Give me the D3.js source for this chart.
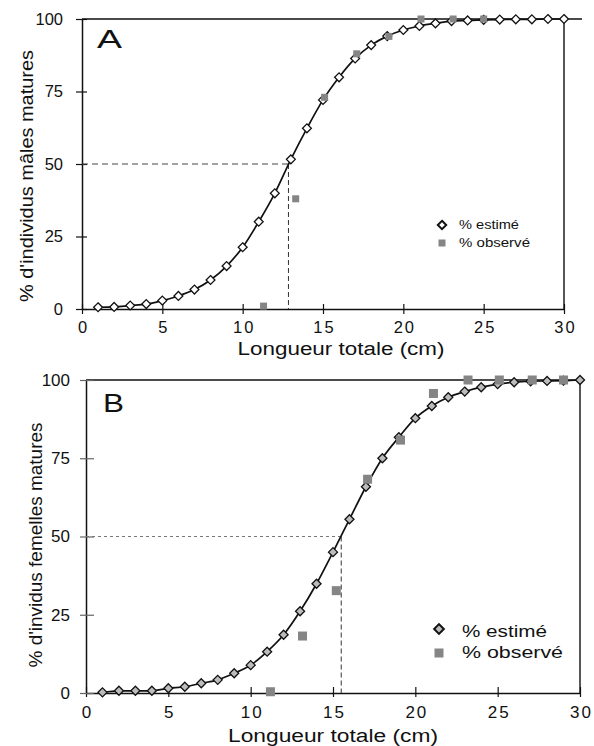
<!DOCTYPE html>
<html>
<head>
<meta charset="utf-8">
<script src="https://cdn.jsdelivr.net/npm/d3@7"></script>
<style>
    body { margin: 0; background: #fff; }
    text { font-family: "Liberation Sans", Arial, sans-serif; fill: #111; }
</style>
</head>
<body>
<svg id="figure" width="594" height="746"></svg>
<script>
// Données
const longueurs = [1, 2, 3, 4, 5, 6, 7, 8, 9, 10, 11, 12, 13, 14, 15,
    16, 17, 18, 19, 20, 21, 22, 23, 24, 25, 26, 27, 28, 29, 30];

const estimeMales = [0.6, 0.7, 1.2, 1.7, 2.9, 4.5, 6.7, 10.0, 14.8, 21.3, 30.1, 39.9, 51.6, 62.3, 72.1,
    79.9, 86.4, 91.0, 94.1, 96.2, 97.6, 98.5, 99.3, 99.5, 99.7, 99.8, 99.9, 99.9, 100, 100];
const observeMalesX = [11.3, 13.3, 15.1, 17.1, 19.1, 21.1, 23.1, 25.0];
const observeMales = [1, 38, 73, 88, 94, 100, 100, 100];
const l50Males = 12.85;

const estimeFemelles = [0.2, 0.7, 0.7, 0.7, 1.5, 2.0, 3.1, 4.2, 6.3, 8.9, 13.2, 18.6, 26.1, 34.9, 45.0,
    55.5, 65.9, 75.0, 81.7, 87.8, 91.7, 94.5, 96.3, 97.7, 98.7, 99.3, 99.6, 99.7, 99.8, 100];
const observeFemellesX = [11.2, 13.15, 15.2, 17.1, 19.1, 21.1, 23.2, 25.1, 27.1, 29.0];
const observeFemelles = [0.4, 18.2, 32.7, 68.3, 80.8, 95.7, 100, 100, 100, 100];
const l50Femelles = 15.5;

const ticksX = [0, 5, 10, 15, 20, 25, 30];
const ticksY = [0, 25, 50, 75, 100];

const svg = d3.select("#figure");

// Dessine un panneau (A ou B)
function dessinerPanneau(p) {
    const x = d3.scaleLinear().domain([0, 30]).range(p.xr);
    const y = d3.scaleLinear().domain([0, 100]).range(p.yr);
    const g = svg.append("g");

    // Cadre haut et droit
    g.append("path")
        .attr("d", `M${x(0)},${y(100)}H${x(30) + p.ext}M${x(30)},${y(100)}V${y(0)}`)
        .attr("fill", "none")
        .attr("stroke", "#111")
        .attr("stroke-width", 1.4);

    // Axe X
    const ax = g.append("g")
        .attr("transform", `translate(0,${y(0)})`)
        .call(d3.axisBottom(x).tickValues(ticksX).tickSize(p.tickBas).tickSizeOuter(0).tickPadding(p.padX));
    ax.select(".domain").attr("stroke", "#111").attr("stroke-width", 1.5);
    ax.selectAll(".tick line").attr("y1", -p.tickHaut).attr("stroke", "#111").attr("stroke-width", 1.2);
    ax.selectAll(".tick text")
        .style("font-size", p.fsTick + "px")
        .attr("letter-spacing", 2)
        .attr("dx", 1);

    // Axe Y
    const ay = g.append("g")
        .attr("transform", `translate(${x(0)},0)`)
        .call(d3.axisLeft(y).tickValues(ticksY).tickSize(p.tickGauche).tickSizeOuter(0).tickPadding(p.padY));
    ay.select(".domain").attr("stroke", "#111").attr("stroke-width", 1.5);
    ay.selectAll(".tick line").attr("x1", p.tickDroite).attr("stroke", p.couleurTickY).attr("stroke-width", 1.2);
    ay.selectAll(".tick text").style("font-size", p.fsTick + "px");

    // Lignes pointillées du L50
    g.append("line")
        .attr("x1", x(0)).attr("x2", x(p.l50))
        .attr("y1", y(50)).attr("y2", y(50))
        .attr("stroke", p.couleurH)
        .attr("stroke-width", 1)
        .attr("stroke-dasharray", p.tiretsH);
    g.append("line")
        .attr("x1", x(p.l50)).attr("x2", x(p.l50))
        .attr("y1", y(50)).attr("y2", y(0))
        .attr("stroke", "#333")
        .attr("stroke-width", 1)
        .attr("stroke-dasharray", "5,3");

    // Courbe estimée
    const points = longueurs.map((l, i) => ({ l: l, v: p.estime[i] }));
    g.append("path")
        .datum(points)
        .attr("fill", "none")
        .attr("stroke", "#111")
        .attr("stroke-width", 1.7)
        .attr("d", d3.line().x(d => x(d.l)).y(d => y(d.v)).curve(d3.curveMonotoneX));

    // Losanges estimés
    const losange = d3.symbol(d3.symbolDiamond2, p.tailleLosange);
    g.selectAll(".est")
        .data(points)
        .enter()
        .append("path")
        .attr("class", "est")
        .attr("transform", d => `translate(${x(d.l)},${y(d.v)})`)
        .attr("d", losange)
        .attr("fill", p.remplissage)
        .attr("stroke", "#111")
        .attr("stroke-width", 1.3);

    // Points observés (par-dessus les losanges)
    const obs = p.obsX.map((l, i) => ({ l: l, v: p.obs[i] }));
    g.selectAll(".obs")
        .data(obs)
        .enter()
        .append("rect")
        .attr("class", "obs")
        .attr("x", d => x(d.l) - p.carre / 2)
        .attr("y", d => y(d.v) - p.carre / 2)
        .attr("width", p.carre)
        .attr("height", p.carre)
        .attr("fill", "#858585");

    // Légende
    const lg = p.legende;
    g.append("path")
        .attr("transform", `translate(${lg.x},${lg.y1})`)
        .attr("d", d3.symbol(d3.symbolDiamond2, lg.losange))
        .attr("fill", p.remplissage)
        .attr("stroke", "#111")
        .attr("stroke-width", 2);
    g.append("rect")
        .attr("x", lg.x - lg.carre / 2)
        .attr("y", lg.y2 - lg.carre / 2)
        .attr("width", lg.carre)
        .attr("height", lg.carre)
        .attr("fill", "#858585");
    g.append("text")
        .attr("x", lg.tx).attr("y", lg.b1)
        .style("font-size", lg.fs + "px")
        .attr("textLength", lg.l1)
        .attr("lengthAdjust", "spacingAndGlyphs")
        .text("% estimé");
    g.append("text")
        .attr("x", lg.tx).attr("y", lg.b2)
        .style("font-size", lg.fs + "px")
        .attr("textLength", lg.l2)
        .attr("lengthAdjust", "spacingAndGlyphs")
        .text("% observé");

    // Lettre du panneau
    g.append("text")
        .attr("x", p.lettre.x).attr("y", p.lettre.y)
        .style("font-size", p.lettre.fs + "px")
        .attr("textLength", p.lettre.l)
        .attr("lengthAdjust", "spacingAndGlyphs")
        .text(p.lettre.t);

    // Titres des axes
    g.append("text")
        .attr("x", p.titreX.x).attr("y", p.titreX.y)
        .attr("text-anchor", "middle")
        .style("font-size", "18px")
        .attr("textLength", p.titreX.l)
        .attr("lengthAdjust", "spacingAndGlyphs")
        .text("Longueur totale (cm)");
    g.append("text")
        .attr("transform", `translate(${p.titreY.x},${p.titreY.y}) rotate(-90)`)
        .attr("text-anchor", "middle")
        .style("font-size", "19px")
        .attr("textLength", p.titreY.l)
        .attr("lengthAdjust", "spacingAndGlyphs")
        .text(p.titreY.t);
}

// Panneau A : mâles
dessinerPanneau({
    xr: [82, 564], yr: [309, 19], ext: 18,
    tickBas: 5, tickHaut: 5, padX: 7, tickGauche: 6, tickDroite: 5, padY: 13,
    fsTick: 16.5, couleurTickY: "#111",
    l50: l50Males, couleurH: "#444", tiretsH: "6,4",
    estime: estimeMales, obsX: observeMalesX, obs: observeMales,
    carre: 7, tailleLosange: 50, remplissage: "#fff",
    legende: { x: 442, y1: 225, y2: 243, carre: 7, losange: 45, tx: 459, b1: 229, b2: 247, fs: 12, l1: 60, l2: 71 },
    lettre: { x: 97, y: 48, fs: 25, l: 25, t: "A" },
    titreX: { x: 341, y: 355, l: 207 },
    titreY: { x: 33, y: 176, l: 252, t: "% d'individus mâles matures" }
});

// Panneau B : femelles
dessinerPanneau({
    xr: [86, 580], yr: [693, 380], ext: 0,
    tickBas: 4, tickHaut: 6, padX: 9, tickGauche: 6, tickDroite: 8, padY: 10,
    fsTick: 17, couleurTickY: "#666",
    l50: l50Femelles, couleurH: "#777", tiretsH: "3,3",
    estime: estimeFemelles, obsX: observeFemellesX, obs: observeFemelles,
    carre: 9, tailleLosange: 52, remplissage: "#bcbcbc",
    legende: { x: 439, y1: 629, y2: 653, carre: 9, losange: 60, tx: 462, b1: 637, b2: 658, fs: 16, l1: 85, l2: 101 },
    lettre: { x: 103, y: 412, fs: 26, l: 21, t: "B" },
    titreX: { x: 333, y: 742, l: 210 },
    titreY: { x: 42, y: 545, l: 245, t: "% d'invidus femelles matures" }
});
</script>
</body>
</html>
